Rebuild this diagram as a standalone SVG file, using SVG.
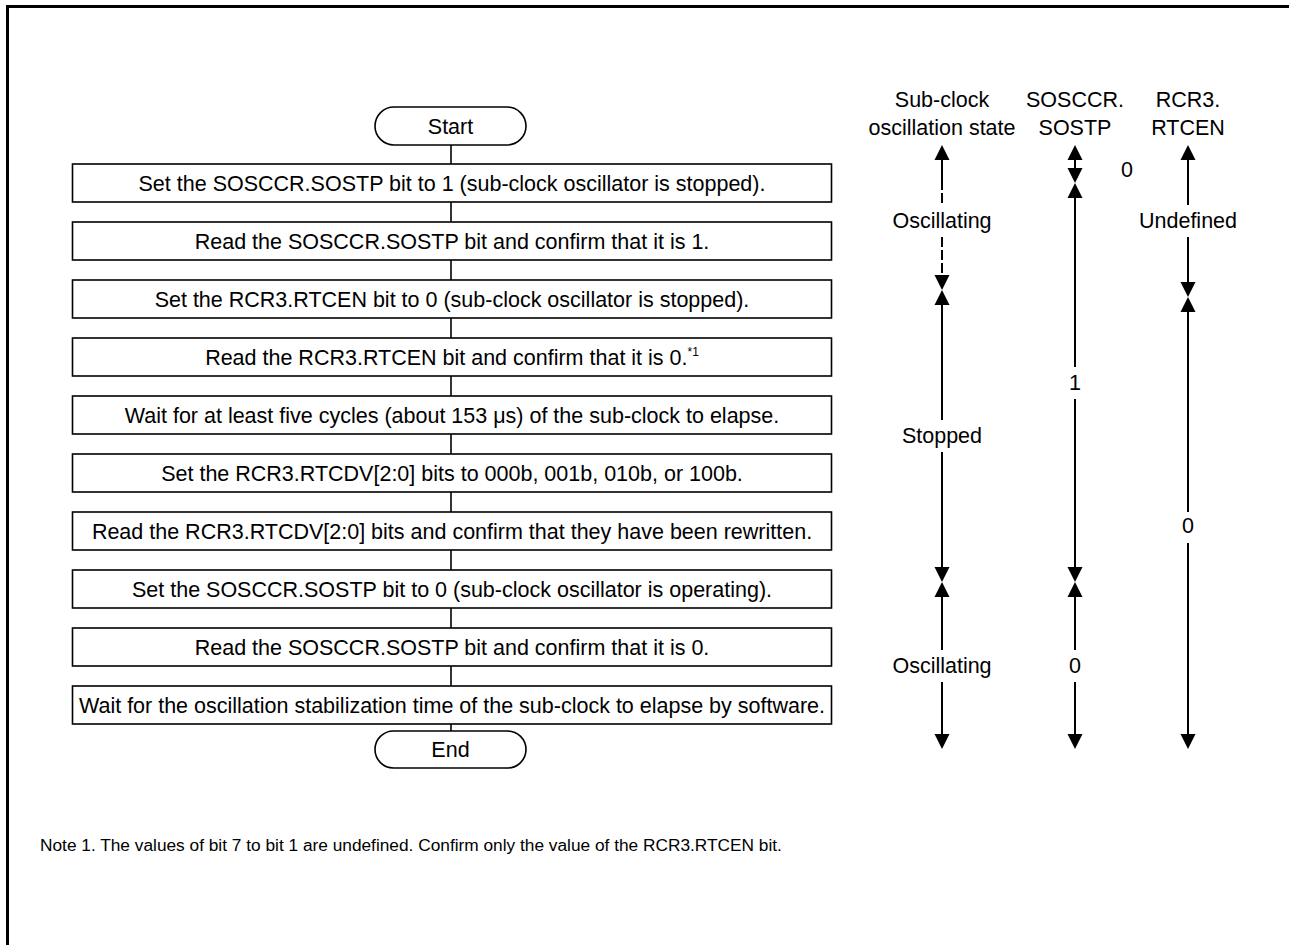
<svg xmlns="http://www.w3.org/2000/svg" width="1289" height="945" viewBox="0 0 1289 945">
<style>
text{font-family:"Liberation Sans",Arial,sans-serif;font-size:21.5px;fill:#000}
.c{text-anchor:middle}
.box{fill:#fff;stroke:#000;stroke-width:1.6}
.conn{stroke:#000;stroke-width:1.6;fill:none}
.tl{stroke:#000;stroke-width:2;fill:none}
.dash{stroke-dasharray:10 3}
.note{font-size:17.3px}
.sup{font-size:12px}
</style>
<defs>
<path id="up" d="M0,0 L-7.5,15 L7.5,15 Z" fill="#000"/>
<path id="dn" d="M0,0 L-7.5,-15 L7.5,-15 Z" fill="#000"/>
</defs>
<rect width="1289" height="945" fill="#fff"/>
<path d="M7.5,945 V6.5 H1289" fill="none" stroke="#000" stroke-width="3"/>

<g id="connectors">
<line class="conn" x1="451" y1="145" x2="451" y2="164"/>
<line class="conn" x1="451" y1="202" x2="451" y2="222"/>
<line class="conn" x1="451" y1="260" x2="451" y2="280"/>
<line class="conn" x1="451" y1="318" x2="451" y2="338"/>
<line class="conn" x1="451" y1="376" x2="451" y2="396"/>
<line class="conn" x1="451" y1="434" x2="451" y2="454"/>
<line class="conn" x1="451" y1="492" x2="451" y2="512"/>
<line class="conn" x1="451" y1="550" x2="451" y2="570"/>
<line class="conn" x1="451" y1="608" x2="451" y2="628"/>
<line class="conn" x1="451" y1="666" x2="451" y2="686"/>
<line class="conn" x1="451" y1="724" x2="451" y2="731"/>
</g>

<g id="start"><rect class="box" x="375" y="107" width="151" height="38" rx="19"/><text class="c" x="450.5" y="133.5">Start</text></g>
<g id="step1"><rect class="box" x="72.5" y="164" width="759" height="38"/><text class="c" x="452" y="190.5">Set the SOSCCR.SOSTP bit to 1 (sub-clock oscillator is stopped).</text></g>
<g id="step2"><rect class="box" x="72.5" y="222" width="759" height="38"/><text class="c" x="452" y="248.5">Read the SOSCCR.SOSTP bit and confirm that it is 1.</text></g>
<g id="step3"><rect class="box" x="72.5" y="280" width="759" height="38"/><text class="c" x="452" y="306.5">Set the RCR3.RTCEN bit to 0 (sub-clock oscillator is stopped).</text></g>
<g id="step4"><rect class="box" x="72.5" y="338" width="759" height="38"/><text class="c" x="452" y="364.5">Read the RCR3.RTCEN bit and confirm that it is 0.<tspan class="sup" dy="-9">*1</tspan></text></g>
<g id="step5"><rect class="box" x="72.5" y="396" width="759" height="38"/><text class="c" x="452" y="422.5">Wait for at least five cycles (about 153 μs) of the sub-clock to elapse.</text></g>
<g id="step6"><rect class="box" x="72.5" y="454" width="759" height="38"/><text class="c" x="452" y="480.5">Set the RCR3.RTCDV[2:0] bits to 000b, 001b, 010b, or 100b.</text></g>
<g id="step7"><rect class="box" x="72.5" y="512" width="759" height="38"/><text class="c" x="452" y="538.5">Read the RCR3.RTCDV[2:0] bits and confirm that they have been rewritten.</text></g>
<g id="step8"><rect class="box" x="72.5" y="570" width="759" height="38"/><text class="c" x="452" y="596.5">Set the SOSCCR.SOSTP bit to 0 (sub-clock oscillator is operating).</text></g>
<g id="step9"><rect class="box" x="72.5" y="628" width="759" height="38"/><text class="c" x="452" y="654.5">Read the SOSCCR.SOSTP bit and confirm that it is 0.</text></g>
<g id="step10"><rect class="box" x="72.5" y="686" width="759" height="38"/><text class="c" x="452" y="712.5">Wait for the oscillation stabilization time of the sub-clock to elapse by software.</text></g>
<g id="end"><rect class="box" x="375" y="731" width="151" height="37" rx="18.5"/><text class="c" x="450.5" y="757">End</text></g>

<g id="col-osc">
<text class="c" x="942" y="107">Sub-clock</text>
<text class="c" x="942" y="135">oscillation state</text>
<use href="#up" x="942" y="145"/>
<line class="tl" x1="942" y1="159" x2="942" y2="180"/>
<line class="tl dash" x1="942" y1="180" x2="942" y2="206"/>
<text class="c" x="942" y="228">Oscillating</text>
<line class="tl dash" x1="942" y1="237" x2="942" y2="276"/>
<use href="#dn" x="942" y="290"/>
<use href="#up" x="942" y="290"/>
<line class="tl" x1="942" y1="303" x2="942" y2="420"/>
<text class="c" x="942" y="443">Stopped</text>
<line class="tl" x1="942" y1="452" x2="942" y2="569"/>
<use href="#dn" x="942" y="582"/>
<use href="#up" x="942" y="582"/>
<line class="tl" x1="942" y1="595" x2="942" y2="650"/>
<text class="c" x="942" y="673">Oscillating</text>
<line class="tl" x1="942" y1="682" x2="942" y2="736"/>
<use href="#dn" x="942" y="749"/>
</g>

<g id="col-sostp">
<text class="c" x="1075" y="107">SOSCCR.</text>
<text class="c" x="1075" y="135">SOSTP</text>
<use href="#up" x="1075" y="145"/>
<line class="tl" x1="1075" y1="159" x2="1075" y2="170"/>
<use href="#dn" x="1075" y="183"/>
<use href="#up" x="1075" y="183"/>
<text class="c" x="1127" y="177">0</text>
<line class="tl" x1="1075" y1="196" x2="1075" y2="367"/>
<text class="c" x="1075" y="390">1</text>
<line class="tl" x1="1075" y1="399" x2="1075" y2="569"/>
<use href="#dn" x="1075" y="582"/>
<use href="#up" x="1075" y="582"/>
<line class="tl" x1="1075" y1="595" x2="1075" y2="650"/>
<text class="c" x="1075" y="673">0</text>
<line class="tl" x1="1075" y1="682" x2="1075" y2="736"/>
<use href="#dn" x="1075" y="749"/>
</g>

<g id="col-rtcen">
<text class="c" x="1188" y="107">RCR3.</text>
<text class="c" x="1188" y="135">RTCEN</text>
<use href="#up" x="1188" y="145"/>
<line class="tl" x1="1188" y1="159" x2="1188" y2="205"/>
<text class="c" x="1188" y="228">Undefined</text>
<line class="tl" x1="1188" y1="237" x2="1188" y2="284"/>
<use href="#dn" x="1188" y="297"/>
<use href="#up" x="1188" y="297"/>
<line class="tl" x1="1188" y1="310" x2="1188" y2="512"/>
<text class="c" x="1188" y="533">0</text>
<line class="tl" x1="1188" y1="543" x2="1188" y2="736"/>
<use href="#dn" x="1188" y="749"/>
</g>

<text class="note" x="40" y="851">Note 1. The values of bit 7 to bit 1 are undefined. Confirm only the value of the RCR3.RTCEN bit.</text>
</svg>
